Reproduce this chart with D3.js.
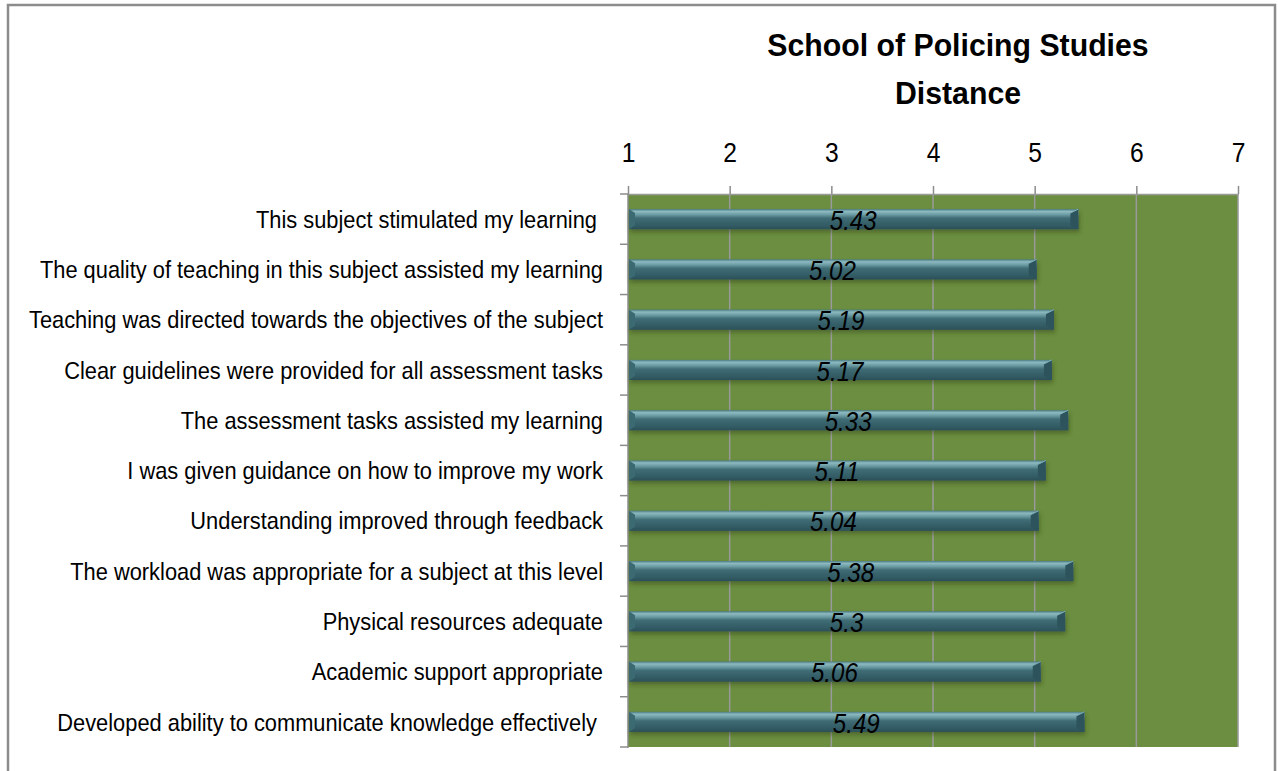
<!DOCTYPE html>
<html>
<head>
<meta charset="utf-8">
<script src="https://cdn.jsdelivr.net/npm/d3@7.9.0/dist/d3.min.js"></script>
<style>
  html, body { margin: 0; padding: 0; background: #fff; }
  svg text { font-family: "Liberation Sans Narrow", "Arial Narrow", "Liberation Sans", Arial, sans-serif; }
</style>
</head>
<body>
<svg id="chart" width="1278" height="771"></svg>
<script>
const categories = [
  'This subject stimulated my learning ',
  'The quality of teaching in this subject assisted my learning',
  'Teaching was directed towards the objectives of the subject',
  'Clear guidelines were provided for all assessment tasks',
  'The assessment tasks assisted my learning',
  'I was given guidance on how to improve my work',
  'Understanding improved through feedback',
  'The workload was appropriate for a subject at this level',
  'Physical resources adequate',
  'Academic support appropriate',
  'Developed ability to communicate knowledge effectively '
];
const values = [5.43, 5.02, 5.19, 5.17, 5.33, 5.11, 5.04, 5.38, 5.3, 5.06, 5.49];
const valueLabels = ['5.43', '5.02', '5.19', '5.17', '5.33', '5.11', '5.04', '5.38', '5.3', '5.06', '5.49'];
const tickValues = [1, 2, 3, 4, 5, 6, 7];
const titleLines = ['School of Policing Studies', 'Distance'];

// no narrow face installed, so squeeze the regular one
const narrow = 0.88;

const svg = d3.select('#chart');

// outer frame
svg.append('rect')
  .attr('x', 8).attr('y', 5)
  .attr('width', 1267).attr('height', 800)
  .attr('fill', 'none')
  .attr('stroke', '#8c8c8c')
  .attr('stroke-width', 2.5);

const x = d3.scaleLinear().domain([1, 7]).range([628, 1238]);
const y = d3.scaleBand().domain(categories).range([194, 747])
  .paddingInner(0.6).paddingOuter(0.3);

// gradient for bars
const defs = svg.append('defs');
const grad = defs.append('linearGradient')
  .attr('id', 'barGrad').attr('x1', 0).attr('y1', 0).attr('x2', 0).attr('y2', 1);
[['0%', '#4a7b84'], ['12%', '#8dbac0'], ['28%', '#6a9aa2'], ['45%', '#3f6c75'], ['80%', '#335c65'], ['100%', '#2b5059']]
  .forEach(([o, c]) => grad.append('stop').attr('offset', o).attr('stop-color', c));
const shadow = defs.append('filter').attr('id', 'shadow')
  .attr('x', '-5%').attr('y', '-30%').attr('width', '110%').attr('height', '170%');
shadow.append('feDropShadow')
  .attr('dx', 1).attr('dy', 3).attr('stdDeviation', 2)
  .attr('flood-color', '#2a3a1a').attr('flood-opacity', 0.45);

// plot background
svg.append('rect')
  .attr('x', x(1)).attr('y', y.range()[0])
  .attr('width', x(7) - x(1)).attr('height', y.range()[1] - y.range()[0])
  .attr('fill', '#6b8e40');

// vertical grid lines
svg.append('g')
  .selectAll('line')
  .data(tickValues.slice(1))
  .join('line')
  .attr('x1', d => x(d)).attr('x2', d => x(d))
  .attr('y1', y.range()[0]).attr('y2', y.range()[1])
  .attr('stroke', '#9a9a9a')
  .attr('stroke-width', 1.5);

// top axis
const xAxis = svg.append('g')
  .attr('transform', `translate(0,${y.range()[0]})`)
  .call(d3.axisTop(x).tickValues(tickValues).tickFormat(d3.format('d')).tickSize(8).tickSizeOuter(0));
xAxis.select('.domain').attr('stroke', '#9a9a9a').attr('stroke-width', 1.5);
xAxis.selectAll('.tick line').attr('stroke', '#8c8c8c').attr('stroke-width', 1.5);
xAxis.selectAll('.tick text')
  .attr('y', 0)
  .attr('dy', 0)
  .attr('transform', `translate(0,-32) scale(${narrow},1)`)
  .attr('font-size', 28)
  .attr('fill', '#000')
  .style('font-family', '"Liberation Sans Narrow", "Arial Narrow", "Liberation Sans", Arial, sans-serif');

// left axis line + ticks at band boundaries
const boundaries = d3.range(categories.length + 1).map(i => y.range()[0] + i * y.step());
svg.append('line')
  .attr('x1', x(1)).attr('x2', x(1))
  .attr('y1', y.range()[0]).attr('y2', y.range()[1] + 1)
  .attr('stroke', '#8c8c8c').attr('stroke-width', 1.5);
svg.append('g')
  .selectAll('line')
  .data(boundaries)
  .join('line')
  .attr('x1', x(1) - 8).attr('x2', x(1))
  .attr('y1', d => d).attr('y2', d => d)
  .attr('stroke', '#8c8c8c').attr('stroke-width', 1.5);

// category labels
svg.append('g')
  .selectAll('text')
  .data(categories)
  .join('text')
  .attr('transform', d => `translate(603,${y(d) + y.bandwidth() / 2}) scale(0.91,1)`)
  .attr('dy', '0.36em')
  .attr('text-anchor', 'end')
  .attr('font-size', 24)
  .attr('fill', '#000')
  .style('white-space', 'pre')
  .text(d => d);

// bars
const bars = svg.append('g')
  .selectAll('g')
  .data(categories.map((c, i) => ({ cat: c, value: values[i], label: valueLabels[i] })))
  .join('g');

bars.append('rect')
  .attr('x', x(1) + 1)
  .attr('y', d => y(d.cat))
  .attr('width', d => x(d.value) - x(1) - 1)
  .attr('height', y.bandwidth())
  .attr('fill', 'url(#barGrad)')
  .attr('filter', 'url(#shadow)');

// right-end bevel
bars.append('path')
  .attr('d', d => {
    const x1 = x(d.value), top = y(d.cat), bot = top + y.bandwidth(), b = 8;
    return `M${x1 - b},${top + 4}L${x1},${top}L${x1},${bot}L${x1 - b},${bot - 4}Z`;
  })
  .attr('fill', '#2d545d');
bars.append('path')
  .attr('d', d => {
    const x1 = x(d.value), top = y(d.cat), b = 8;
    return `M${x1 - b},${top + 4}L${x1},${top}`;
  })
  .attr('stroke', '#7fb0b7').attr('stroke-width', 1);

// left-end bevel
bars.append('path')
  .attr('d', d => {
    const x0 = x(1) + 1, top = y(d.cat), bot = top + y.bandwidth(), b = 6;
    return `M${x0},${top}L${x0 + b},${top + 4}L${x0 + b},${bot - 4}L${x0},${bot}Z`;
  })
  .attr('fill', '#3b6a72');

// value labels
bars.append('text')
  .attr('transform', d => `translate(${(x(1) + x(d.value)) / 2},${y(d.cat) + y.bandwidth() / 2}) scale(0.86,1)`)
  .attr('dy', '0.38em')
  .attr('text-anchor', 'middle')
  .attr('font-size', 28)
  .attr('font-style', 'italic')
  .attr('fill', '#000')
  .text(d => d.label);

// title
svg.append('g')
  .selectAll('text')
  .data(titleLines)
  .join('text')
  .attr('transform', (d, i) => `translate(958,${56 + i * 48}) scale(0.945,1)`)
  .attr('text-anchor', 'middle')
  .attr('font-size', 32)
  .attr('font-weight', 'bold')
  .attr('fill', '#000')
  .text(d => d);
</script>
</body>
</html>
